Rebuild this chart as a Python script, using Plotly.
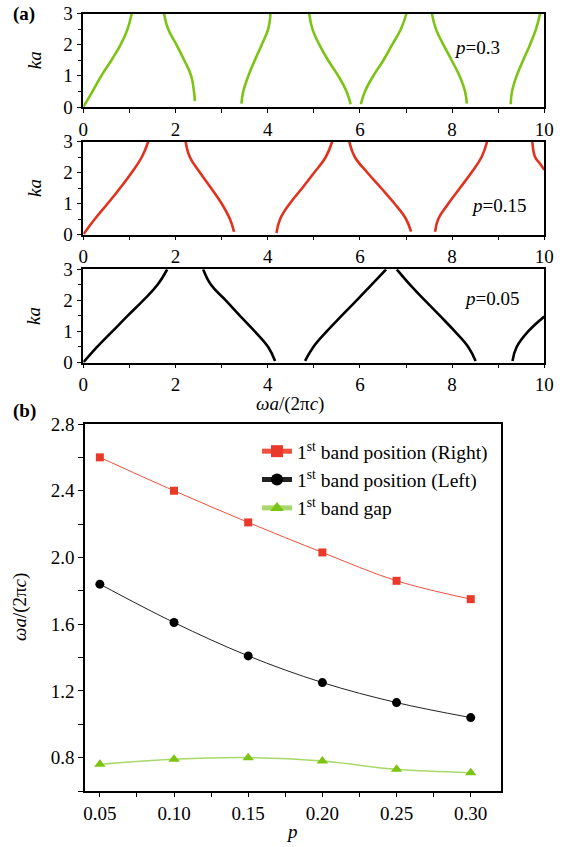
import plotly.graph_objects as go

# ---------------- data: panel (a) band curves (omega a / 2 pi c vs ka) ----------------
# p = 0.3 (green)
p030_w = [
    [0.00, 0.20, 0.39, 0.61, 0.81, 0.96, 1.05],
    [1.75, 1.84, 2.02, 2.19, 2.34, 2.40, 2.42],
    [3.43, 3.47, 3.58, 3.72, 3.87, 4.01, 4.06],
    [4.90, 4.97, 5.12, 5.31, 5.53, 5.71, 5.80],
    [6.02, 6.11, 6.29, 6.51, 6.70, 6.89, 7.01],
    [7.56, 7.65, 7.81, 7.99, 8.16, 8.28, 8.32],
    [9.27, 9.30, 9.40, 9.54, 9.69, 9.82, 9.91],
]
p030_ka = [
    [0.00, 0.50, 1.00, 1.50, 2.00, 2.50, 3.00],
    [3.00, 2.50, 2.00, 1.50, 1.00, 0.50, 0.19],
    [0.11, 0.50, 1.00, 1.50, 2.00, 2.50, 3.00],
    [3.00, 2.50, 2.00, 1.50, 1.00, 0.50, 0.09],
    [0.09, 0.50, 1.00, 1.50, 2.00, 2.50, 3.00],
    [3.00, 2.50, 2.00, 1.50, 1.00, 0.50, 0.11],
    [0.09, 0.50, 1.00, 1.50, 2.00, 2.50, 3.00],
]
# p = 0.15 (red)
p015_w = [
    [0.00, 0.25, 0.53, 0.80, 1.05, 1.27, 1.41],
    [2.22, 2.31, 2.53, 2.77, 3.00, 3.18, 3.27],
    [4.19, 4.27, 4.48, 4.75, 5.01, 5.26, 5.40],
    [5.77, 5.89, 6.16, 6.46, 6.75, 7.00, 7.11],
    [7.63, 7.70, 7.92, 8.17, 8.42, 8.64, 8.76],
    [9.74, 9.80, 9.90, 10.00],
]
p015_ka = [
    [0.00, 0.50, 1.00, 1.50, 2.00, 2.50, 3.00],
    [3.00, 2.50, 2.00, 1.50, 1.00, 0.50, 0.09],
    [0.05, 0.50, 1.00, 1.50, 2.00, 2.50, 3.00],
    [3.00, 2.50, 2.00, 1.50, 1.00, 0.50, 0.09],
    [0.09, 0.50, 1.00, 1.50, 2.00, 2.50, 3.00],
    [3.00, 2.50, 2.30, 2.09],
]
# p = 0.05 (black)
p005_w = [
    [0.00, 0.30, 0.63, 0.96, 1.30, 1.61, 1.82],
    [2.60, 2.77, 3.09, 3.40, 3.72, 4.01, 4.16],
    [4.81, 4.99, 5.28, 5.60, 5.93, 6.25, 6.57],
    [6.80, 7.09, 7.41, 7.74, 8.06, 8.35, 8.51],
    [9.31, 9.40, 9.65, 10.00],
]
p005_ka = [
    [0.00, 0.50, 1.00, 1.50, 2.00, 2.50, 3.00],
    [3.00, 2.50, 2.00, 1.50, 1.00, 0.50, 0.05],
    [0.05, 0.50, 1.00, 1.50, 2.00, 2.50, 3.00],
    [3.00, 2.50, 2.00, 1.50, 1.00, 0.50, 0.05],
    [0.05, 0.50, 1.00, 1.48],
]
panel_labels = ["<i>p</i>=0.3", "<i>p</i>=0.15", "<i>p</i>=0.05"]

# ---------------- data: panel (b) ----------------
p_vals = [0.05, 0.10, 0.15, 0.20, 0.25, 0.30]
band_right = [2.60, 2.40, 2.21, 2.03, 1.86, 1.75]
band_left = [1.84, 1.61, 1.41, 1.25, 1.13, 1.04]
band_gap = [0.76, 0.79, 0.80, 0.78, 0.73, 0.71]
series_names = ["1<sup>st</sup> band position (Right)",
                "1<sup>st</sup> band position (Left)",
                "1<sup>st</sup> band gap"]
b_xticks = [0.05, 0.10, 0.15, 0.20, 0.25, 0.30]
b_xticktext = ["0.05", "0.10", "0.15", "0.20", "0.25", "0.30"]
b_yticks = [0.8, 1.2, 1.6, 2.0, 2.4, 2.8]
b_yticktext = ["0.8", "1.2", "1.6", "2.0", "2.4", "2.8"]

FONT = "Liberation Serif"
W, H = 571, 847

fig = go.Figure()

panels = [(p030_w, p030_ka, "#7cc414"), (p015_w, p015_ka, "#e2321e"), (p005_w, p005_ka, "#000000")]
axis_ids = ["", "2", "3"]
for (ws, kas, col), aid in zip(panels, axis_ids):
    for w, ka in zip(ws, kas):
        fig.add_trace(go.Scatter(x=w, y=ka, mode="lines",
                                 line=dict(color=col, width=2.6, shape="spline", smoothing=1.2),
                                 xaxis="x" + aid, yaxis="y" + aid, showlegend=False,
                                 hoverinfo="skip"))

# panel b
fig.add_trace(go.Scatter(x=p_vals, y=band_right, mode="lines+markers", name=series_names[0],
                         line=dict(color="#f0503c", width=1, shape="spline"),
                         marker=dict(symbol="square", size=8, color="#e8392a"),
                         xaxis="x4", yaxis="y4"))
fig.add_trace(go.Scatter(x=p_vals, y=band_left, mode="lines+markers", name=series_names[1],
                         line=dict(color="#222222", width=1, shape="spline"),
                         marker=dict(symbol="circle", size=9, color="#000000"),
                         xaxis="x4", yaxis="y4"))
fig.add_trace(go.Scatter(x=p_vals, y=band_gap, mode="lines+markers", name=series_names[2],
                         line=dict(color="#a8d86a", width=1.5, shape="spline"),
                         marker=dict(symbol="triangle-up", size=10, color="#7cc414"),
                         xaxis="x4", yaxis="y4"))

def px2x(px):
    return px / W

def px2y(py):
    return 1 - py / H

tickfont = dict(family=FONT, size=19, color="black")
common_ax = dict(showline=True, linecolor="black", linewidth=1.5, mirror=True,
                 showgrid=False, zeroline=False, tickfont=tickfont, tickcolor="black",
                 ticks="outside", automargin=False)

a_tops = [13.5, 141.5, 269.3]
a_bots = [107.0, 234.5, 362.5]
layout = dict(template="none", width=W, height=H, margin=dict(l=0, r=0, t=0, b=0, pad=0),
              font=dict(family=FONT, size=19, color="black"),
              paper_bgcolor="white", plot_bgcolor="white", showlegend=True)
for i, aid in enumerate(axis_ids):
    xa = "xaxis" + aid
    ya = "yaxis" + aid
    layout[xa] = dict(common_ax, domain=[px2x(83.3), px2x(544.3)], range=[0, 10],
                      dtick=2, tick0=0, ticklen=4, tickwidth=1.2,
                      minor=dict(dtick=1, ticks="outside", ticklen=4, tickcolor="black", tickwidth=1.2),
                      anchor="y" + aid)
    layout[ya] = dict(common_ax, domain=[px2y(a_bots[i]), px2y(a_tops[i])], range=[0, 3],
                      dtick=1, tick0=0, ticklen=5, tickwidth=1.2,
                      minor=dict(dtick=0.5, ticks="outside", ticklen=4, tickcolor="black", tickwidth=1.2),
                      anchor="x" + aid)

layout["xaxis4"] = dict(common_ax, domain=[px2x(85), px2x(501)], range=[0.04, 0.3204],
                        tickvals=b_xticks, ticktext=b_xticktext, ticklen=4, tickwidth=1.2,
                        minor=dict(dtick=0.025, tick0=0.05, ticks="outside", ticklen=4,
                                   tickcolor="black", tickwidth=1.2),
                        anchor="y4")
layout["yaxis4"] = dict(common_ax, domain=[px2y(791), px2y(424)], range=[0.6, 2.8],
                        tickvals=b_yticks, ticktext=b_yticktext, ticklen=5, tickwidth=1.2,
                        minor=dict(dtick=0.2, tick0=0.6, ticks="outside", ticklen=5,
                                   tickcolor="black", tickwidth=1.2),
                        anchor="x4")
layout["legend"] = dict(x=px2x(257), y=px2y(432), xanchor="left", yanchor="top",
                        font=dict(family=FONT, size=19.5, color="black"),
                        bgcolor="rgba(0,0,0,0)", tracegroupgap=0, itemsizing="constant")

anns = []
lab_font = dict(family=FONT, size=19, color="black")

def ann(text, x, y, xref="paper", yref="paper", angle=0):
    return dict(text=text, x=x, y=y, xref=xref, yref=yref, showarrow=False,
                xanchor="center", yanchor="middle", textangle=angle, font=lab_font)

# (a) / (b)
anns.append(ann("<b>(a)</b>", px2x(24), px2y(14)))
anns.append(ann("<b>(b)</b>", px2x(24), px2y(411)))
# ka labels
for i in range(3):
    anns.append(ann("<i>ka</i>", px2x(34), px2y((a_tops[i] + a_bots[i]) / 2), angle=-90))
# p labels inside panels
p_lab_pos = [(8.55, 1.9), (9.0, 0.95), (8.85, 2.05)]
for i, aid in enumerate(axis_ids):
    anns.append(ann(panel_labels[i], p_lab_pos[i][0], p_lab_pos[i][1], "x" + aid, "y" + aid))
# x title of (a)
anns.append(ann("<i>ωa</i>/(2π<i>c</i>)", px2x(290), px2y(404)))
# titles of (b)
anns.append(ann("<i>ωa</i>/(2π<i>c</i>)", px2x(20), px2y(607), angle=-90))
anns.append(ann("<i>p</i>", px2x(292), px2y(831)))
layout["annotations"] = anns

fig.update_layout(**layout)
# remove the browser's default 8 px body margin so the figure fills the window exactly
fig.write_html("out.html", config={"displayModeBar": False},
               post_script="document.body.style.margin='0';")
